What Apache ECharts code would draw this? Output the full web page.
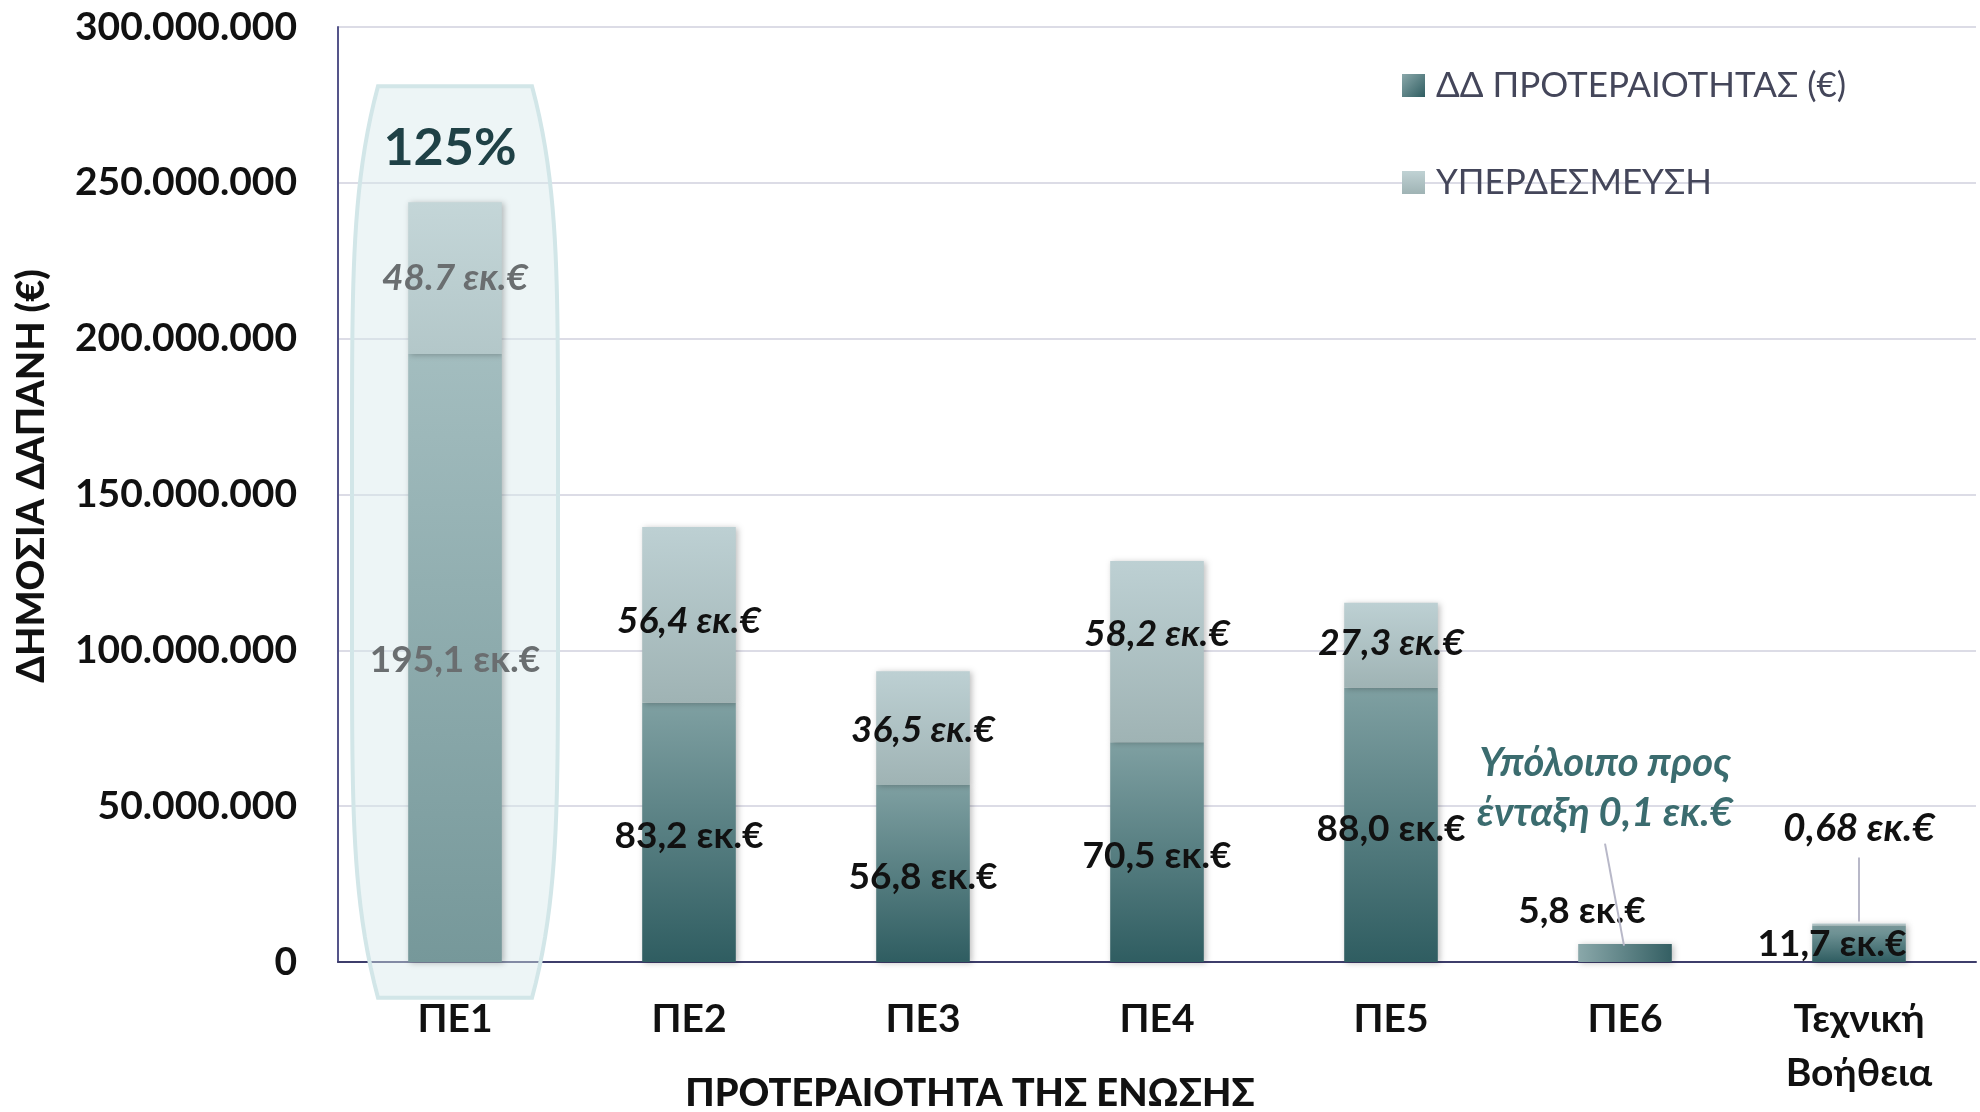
<!DOCTYPE html>
<html>
<head>
<meta charset="utf-8">
<script src="https://cdn.jsdelivr.net/npm/echarts@6/dist/echarts.min.js"></script>
<style>
html,body{margin:0;padding:0;background:#fff;}
#c{width:1980px;height:1112px;}
</style>
</head>
<body>
<div id="c"></div>
<script>
// ---- data (million €) ----
const categories = ['ΠΕ1', 'ΠΕ2', 'ΠΕ3', 'ΠΕ4', 'ΠΕ5', 'ΠΕ6', 'Τεχνική\nΒοήθεια'];
const allocation = [195.1, 83.2, 56.8, 70.5, 88.0, 5.8, 11.7];
const overcommit = [48.7, 56.4, 36.5, 58.2, 27.3, null, 0.68];
const allocationLabels = ['195,1 εκ.€', '83,2 εκ.€', '56,8 εκ.€', '70,5 εκ.€', '88,0 εκ.€', '5,8 εκ.€', '11,7 εκ.€'];
const overcommitLabels = ['48.7 εκ.€', '56,4 εκ.€', '36,5 εκ.€', '58,2 εκ.€', '27,3 εκ.€', '', '0,68 εκ.€'];
const remainderLabel = ['Υπόλοιπο προς', 'ένταξη 0,1 εκ.€'];
const remainderValue = 0.1;
const coverageLabel = '125%';
const seriesNames = ['ΔΔ ΠΡΟΤΕΡΑΙΟΤΗΤΑΣ (€)', 'ΥΠΕΡΔΕΣΜΕΥΣΗ'];
const yMin = 0, yMax = 300000000, yInterval = 50000000;
const axisTitleY = 'ΔΗΜΟΣΙΑ ΔΑΠΑΝΗ (€)';
const axisTitleX = 'ΠΡΟΤΕΡΑΙΟΤΗΤΑ ΤΗΣ ΕΝΩΣΗΣ';

const FONT = 'Lato, "Noto Sans", sans-serif';
const M = 1e6;

function grad(top, bottom) {
  return new echarts.graphic.LinearGradient(0, 0, 0, 1, [
    { offset: 0, color: top }, { offset: 1, color: bottom }
  ]);
}
const darkGrad = () => grad('#7fa0a2', '#2f5d61');
const lightGrad = () => grad('#bdd0d3', '#9fb3b4');
const shadow = { shadowBlur: 6, shadowColor: 'rgba(0,0,0,0.25)', shadowOffsetX: 2, shadowOffsetY: 1 };
const lightOffsets = [[0, 0], [0, 6], [0, 2], [0, -18], [0, -2], [0, 0], [0, 0]];

const darkData = allocation.map((v, i) => {
  const d = { value: v * M, itemStyle: Object.assign({ color: darkGrad() }, shadow),
    label: { formatter: allocationLabels[i], offset: [0, 4] } };
  if (i === 0) {
    d.itemStyle.color = grad('#a3bdbf', '#76989a');
    d.label.color = '#6a6e70';
    d.label.offset = [0, 2];
  }
  if (i === 5) {
    d.itemStyle.color = new echarts.graphic.LinearGradient(0, 0, 1, 0, [
      { offset: 0, color: '#8aa8aa' }, { offset: 1, color: '#345f63' }]);
    d.label.position = 'top';
    d.label.distance = 14;
    d.label.offset = [-43, 0];
  }
  if (i === 6) {
    d.label.offset = [-27, 0];
  }
  return d;
});
const lightData = overcommit.map((v, i) => {
  if (v == null) return null;
  const d = { value: v * M, itemStyle: Object.assign({ color: lightGrad() }, shadow),
    label: { formatter: overcommitLabels[i], offset: lightOffsets[i] } };
  if (i === 0) {
    d.itemStyle.color = grad('#c4d6d8', '#b3c7c9');
    d.label.color = '#6a6e70';
  }
  if (i === 6) d.label.show = false;
  return d;
});

const chart = echarts.init(document.getElementById('c'));
const option = {
  animation: false,
  backgroundColor: '#ffffff',
  textStyle: { fontFamily: FONT },
  grid: { left: 338, right: 4, top: 27, bottom: 150, containLabel: false },
  legend: {
    orient: 'vertical', left: 1397, top: 63, itemWidth: 23, itemHeight: 23, itemGap: 62, icon: 'rect',
    textStyle: { fontFamily: FONT, fontSize: 35, color: '#44465a', padding: [0, 0, 0, 6] },
    data: [
      { name: seriesNames[0], itemStyle: { color: new echarts.graphic.LinearGradient(0, 0, 1, 1, [{ offset: 0, color: '#8aa8aa' }, { offset: 1, color: '#2f5d61' }]) } },
      { name: seriesNames[1], itemStyle: { color: grad('#c0d2d4', '#9fb3b4') } }
    ]
  },
  xAxis: {
    type: 'category', data: categories,
    axisLine: { lineStyle: { color: '#3d3d6b', width: 2 } },
    axisTick: { show: false },
    axisLabel: { fontFamily: FONT, fontWeight: 'bold', fontSize: 39, color: '#111', margin: 30, lineHeight: 54 }
  },
  yAxis: {
    type: 'value', min: yMin, max: yMax, interval: yInterval,
    axisLine: { show: true, lineStyle: { color: '#55558a', width: 2 } },
    axisTick: { show: false },
    splitLine: { lineStyle: { color: '#dcdce6', width: 2 } },
    axisLabel: {
      fontFamily: FONT, fontWeight: 'bold', fontSize: 39, color: '#111', margin: 41,
      formatter: v => String(v).replace(/\B(?=(\d{3})+(?!\d))/g, '.')
    }
  },
  series: [
    {
      name: seriesNames[0], type: 'bar', stack: 'total', barWidth: '40%', data: darkData, z: 3,
      label: { show: true, position: 'inside', fontFamily: FONT, fontWeight: 'bold', fontSize: 37, color: '#111' }
    },
    {
      name: seriesNames[1], type: 'bar', stack: 'total', barWidth: '40%', data: lightData, z: 3,
      label: { show: true, position: 'inside', fontFamily: FONT, fontWeight: 'bold', fontStyle: 'italic', fontSize: 37, color: '#111' }
    }
  ]
};
chart.setOption(option);

// ---- annotations positioned through the chart's own scales ----
function px(cat, val) { return chart.convertToPixel({ xAxisIndex: 0, yAxisIndex: 0 }, [cat, val]); }
const p1Top = px(0, 281 * M), p1Bot = px(0, -11.5 * M);
const cx = p1Top[0];
const yt = p1Top[1], yb = p1Bot[1];
const wTop = 77, wMid = 103;
const leftPts = [], rightPts = [];
const N = 60;
for (let k = 0; k <= N; k++) {
  const t = k / N;
  const y = yt + (yb - yt) * t;
  const w = wMid - (wMid - wTop) * Math.pow(1 - Math.sin(Math.PI * t), 3);
  leftPts.push([cx - w, y]);
  rightPts.unshift([cx + w, y]);
}
const highlightPts = leftPts.concat(rightPts);

const pe1Total = px(0, (allocation[0] + overcommit[0]) * M);
const pe6Top = px(5, (allocation[5] + remainderValue) * M);
const tbTop = px(6, (allocation[6] + overcommit[6]) * M);
const tealText = '#3b6c6f';

chart.setOption({
  graphic: [
    { type: 'polygon', z: 1, shape: { points: highlightPts },
      style: { fill: 'rgba(214,232,234,0.45)', stroke: '#d2e6e8', lineWidth: 4 } },
    { type: 'text', z: 10, x: cx - 5, y: pe1Total[1] - 54, style: {
        text: coverageLabel, fill: '#1f4146', font: 'bold 52px ' + FONT, textAlign: 'center', textVerticalAlign: 'middle' } },
    { type: 'text', z: 10, x: pe6Top[0] - 20, y: pe6Top[1] - 156, style: {
        text: remainderLabel.join('\n'), fill: tealText, font: 'italic bold 40px ' + FONT, lineHeight: 50,
        textAlign: 'center', textVerticalAlign: 'middle' } },
    { type: 'line', z: 10, shape: { x1: pe6Top[0] - 20, y1: pe6Top[1] - 100, x2: pe6Top[0] - 1, y2: pe6Top[1] + 2 },
      style: { stroke: '#b8b8c8', lineWidth: 2 } },
    { type: 'text', z: 10, x: tbTop[0], y: tbTop[1] - 95, style: {
        text: overcommitLabels[6], fill: '#111', font: 'italic bold 39px ' + FONT,
        textAlign: 'center', textVerticalAlign: 'middle' } },
    { type: 'line', z: 10, shape: { x1: tbTop[0], y1: tbTop[1] - 66, x2: tbTop[0], y2: tbTop[1] - 2 },
      style: { stroke: '#b8b8c8', lineWidth: 2 } },
    { type: 'text', z: 10, x: 32, y: 476, rotation: Math.PI / 2, style: {
        text: axisTitleY, fill: '#111', font: '900 38px ' + FONT, textAlign: 'center', textVerticalAlign: 'middle' } },
    { type: 'text', z: 10, x: 970, y: 1094, style: {
        text: axisTitleX, fill: '#111', font: '900 38px ' + FONT, textAlign: 'center', textVerticalAlign: 'middle' } }
  ]
});
</script>
</body>
</html>
